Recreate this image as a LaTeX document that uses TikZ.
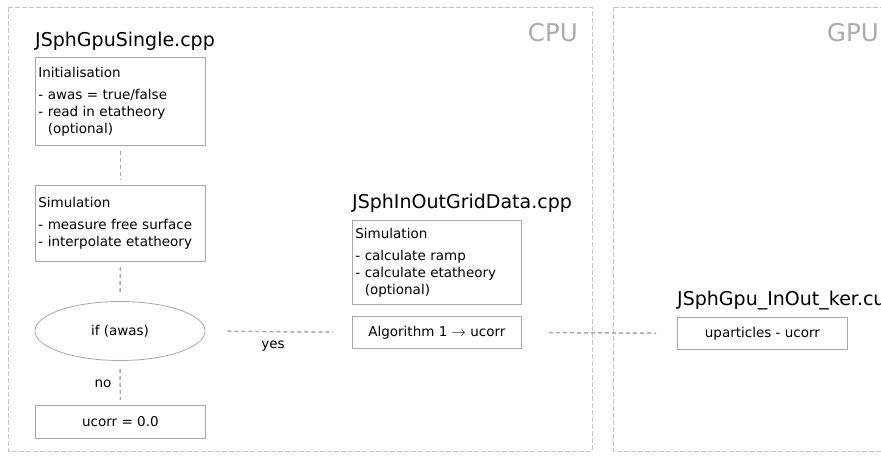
\documentclass[tikz,border=0pt]{standalone}
\usepackage{fontspec}
\setmainfont{DejaVu Sans}
\usetikzlibrary{shapes.geometric}
\definecolor{boxgray}{HTML}{A8A8A8}
\definecolor{linegray}{HTML}{AAAAAA}
\definecolor{contgray}{HTML}{C4C4C4}
\definecolor{labgray}{HTML}{ABABAB}
\tikzset{
  x=1pt, y=-1pt,
  container/.style={draw=contgray, line width=0.8pt, dash pattern=on 5pt off 2pt},
  procbox/.style={draw=boxgray, line width=0.8pt, anchor=north west, minimum width=170pt,
    text width=164pt, inner xsep=3pt, inner ysep=0pt, align=left,
    font=\fontsize{13.5}{17}\selectfont},
  centerbox/.style={draw=boxgray, line width=0.8pt, anchor=north west, minimum width=170pt,
    inner sep=0pt, font=\fontsize{13.5}{17}\selectfont},
  decision/.style={draw=boxgray, line width=0.8pt, ellipse, minimum width=170pt,
    minimum height=59pt, inner sep=0pt, font=\fontsize{13.5}{17}\selectfont},
  title/.style={anchor=base west, inner sep=0pt, font=\fontsize{19}{22}\selectfont},
  zone/.style={anchor=base east, inner sep=0pt, text=labgray, font=\fontsize{24.5}{28}\selectfont},
  conn/.style={draw=linegray, line width=1.5pt, dash pattern=on 4pt off 3pt},
  lbl/.style={inner sep=0pt, font=\fontsize{13.5}{15}\selectfont},
}
\begin{document}
\begin{tikzpicture}
\useasboundingbox (0,0) rectangle (881,460);
\fill[white] (0,0) rectangle (881,460);
% containers
\draw[container] (8,7) rectangle (592,451);
\draw[container] (613,7) rectangle (900,451);
\node[zone] (cpu) at (578,42) {CPU};
\node[zone] (gpu) at (879,42) {GPU};
% titles
\node[title] (t1) at (35,47) {JSphGpuSingle.cpp};
\node[title] (t2) at (352,208) {JSphInOutGridData.cpp};
\node[title] (t3) at (677,305) {JSphGpu\_InOut\_ker.cu};
% CPU left column
\node[procbox, minimum height=88pt] (init) at (35,57)
  {Initialisation\\[5pt]- awas = true/false\\- read in etatheory\\\phantom{- }(optional)};
\node[procbox, minimum height=76pt] (sim) at (35,185)
  {Simulation\\[5pt]- measure free surface\\- interpolate etatheory};
\node[decision] (if) at (120,331) {if (awas)};
\node[centerbox, minimum height=33pt] (zero) at (35,405) {ucorr = 0.0};
% middle column
\node[procbox, minimum height=84pt, minimum width=169pt, text width=163pt] (sim2) at (352,220)
  {Simulation\\[5pt]- calculate ramp\\- calculate etatheory\\\phantom{- }(optional)};
\node[centerbox, minimum height=32pt, minimum width=169pt] (alg) at (352,316) {Algorithm 1 $\rightarrow$ ucorr};
% GPU
\node[centerbox, minimum height=32pt] (upart) at (677,317) {uparticles - ucorr};
% connectors
\draw[conn, shorten <=5pt, shorten >=5pt] (init.south) -- (sim.north);
\draw[conn, shorten <=5pt, shorten >=6pt] (sim.south) -- (if.north);
\draw[conn, shorten <=8pt, shorten >=5pt] (if.south) -- (zero.north);
\draw[conn, shorten <=22pt, shorten >=19pt] (if.east) -- (alg.west);
\draw[conn, shorten <=27pt, shorten >=21pt] (alg.east) -- (upart.west);
% labels
\node[lbl] (yes) at (273,346) {yes};
\node[lbl] (no) at (103,384) {no};
\end{tikzpicture}
\end{document}
